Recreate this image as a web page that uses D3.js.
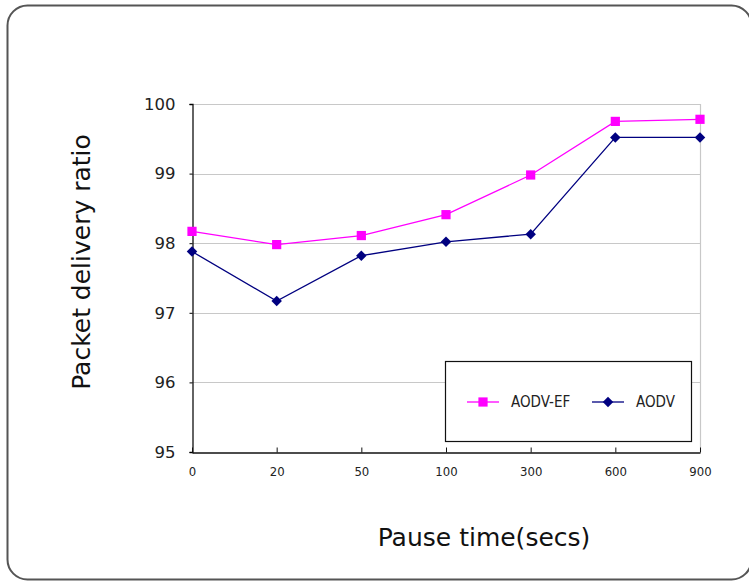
<!DOCTYPE html>
<html>
<head>
<meta charset="utf-8">
<script src="https://cdn.jsdelivr.net/npm/d3@7"></script>
<style>
  body { margin: 0; background: #fff; }
  svg { display: block; }
</style>
</head>
<body>
<div id="chart"></div>
<script>
// pause time categories and the two series
var pauseTimes = ["0", "20", "50", "100", "300", "600", "900"];
var aodvEF = [98.17, 97.98, 98.11, 98.41, 98.98, 99.75, 99.78];
var aodv = [97.88, 97.17, 97.82, 98.02, 98.13, 99.52, 99.52];
var yTicks = [95, 96, 97, 98, 99, 100];
var seriesNames = ["AODV-EF", "AODV"];

var width = 749,
    height = 583,
    margin = ({ top: 104, right: 49, bottom: 131, left: 192 });

var svg = d3.select("#chart").append("svg")
    .attr("width", width)
    .attr("height", height);

// outer rounded frame
svg.append("rect")
    .attr("x", 7.5).attr("y", 5.5)
    .attr("width", 744).attr("height", 574)
    .attr("rx", 20)
    .attr("fill", "#fff")
    .attr("stroke", "#555")
    .attr("stroke-width", 2);

var x = d3.scalePoint()
    .domain(pauseTimes)
    .range([margin.left, width - margin.right]);

var y = d3.scaleLinear()
    .domain([95, 100])
    .range([height - margin.bottom, margin.top]);

// gridlines
svg.append("g")
    .selectAll("line")
    .data(yTicks.filter(d => d > 95))
    .join("line")
    .attr("x1", margin.left)
    .attr("x2", width - margin.right)
    .attr("y1", d => Math.round(y(d)) + 0.5)
    .attr("y2", d => Math.round(y(d)) + 0.5)
    .attr("stroke", "#c8c8c8")
    .attr("stroke-width", 1.2);

// right border of plot area
svg.append("line")
    .attr("x1", width - margin.right + 0.5).attr("x2", width - margin.right + 0.5)
    .attr("y1", margin.top).attr("y2", height - margin.bottom)
    .attr("stroke", "#c8c8c8")
    .attr("stroke-width", 1.2);

// y axis
var yAxis = svg.append("g")
    .attr("transform", `translate(${margin.left + 0.5},0)`)
    .call(d3.axisLeft(y).tickValues(yTicks).tickSize(3).tickPadding(14).tickFormat(d3.format("d")));
yAxis.select(".domain").attr("stroke", "#111").attr("stroke-width", 1.3);
yAxis.selectAll("text")
    .style("font", "16.5px 'DejaVu Sans', sans-serif")
    .attr("fill", "#222");

// x axis, ticks point up into the plot
var xAxis = svg.append("g")
    .attr("transform", `translate(0,${height - margin.bottom + 0.5})`)
    .call(d3.axisBottom(x).tickSizeInner(-5).tickSizeOuter(0).tickPadding(14));
xAxis.select(".domain").attr("stroke", "#111").attr("stroke-width", 1.3);
xAxis.selectAll("line").attr("stroke", "#111");
xAxis.selectAll("text")
    .style("font", "13px 'DejaVu Sans Condensed', 'DejaVu Sans', sans-serif")
    .attr("fill", "#222");

// diamond = square turned 45 degrees
var diamond = {
    draw(context, size) {
        var r = Math.sqrt(size / 2);
        context.moveTo(0, -r);
        context.lineTo(r, 0);
        context.lineTo(0, r);
        context.lineTo(-r, 0);
        context.closePath();
    }
};

// series
var series = [
    { name: seriesNames[0], values: aodvEF, color: "#ff00ff", shape: d3.symbolSquare, size: 85 },
    { name: seriesNames[1], values: aodv, color: "#000080", shape: diamond, size: 55 }
];

var line = d3.line()
    .x((d, i) => x(pauseTimes[i]))
    .y(d => y(d));

series.slice().reverse().forEach(s => {
    svg.append("path")
        .datum(s.values)
        .attr("fill", "none")
        .attr("stroke", s.color)
        .attr("stroke-width", 1.3)
        .attr("d", line);
});

series.forEach(s => {
    svg.append("g")
        .selectAll("path")
        .data(s.values)
        .join("path")
        .attr("transform", (d, i) => `translate(${x(pauseTimes[i])},${y(d)})`)
        .attr("d", d3.symbol().type(s.shape).size(s.size))
        .attr("fill", s.color);
});

// legend
var legend = svg.append("g");
legend.append("rect")
    .attr("x", 445.5).attr("y", 361.5)
    .attr("width", 246).attr("height", 80)
    .attr("fill", "#fff")
    .attr("stroke", "#111")
    .attr("stroke-width", 1.2);

var legendItems = legend.selectAll("g")
    .data(series)
    .join("g")
    .attr("transform", (d, i) => `translate(${i === 0 ? 467 : 592},402)`);

legendItems.append("line")
    .attr("x1", 0).attr("x2", 32)
    .attr("stroke", d => d.color)
    .attr("stroke-width", 1.3);
legendItems.append("path")
    .attr("transform", "translate(16,0)")
    .attr("d", d => d3.symbol().type(d.shape).size(d.size)())
    .attr("fill", d => d.color);
legendItems.append("text")
    .attr("x", 44)
    .attr("dy", "0.35em")
    .style("font", "15px 'DejaVu Sans Condensed', 'DejaVu Sans', sans-serif")
    .attr("fill", "#222")
    .text(d => d.name);

// axis titles
svg.append("text")
    .attr("transform", "translate(90,262) rotate(-90)")
    .attr("text-anchor", "middle")
    .style("font", "25px 'DejaVu Sans', sans-serif")
    .attr("fill", "#111")
    .text("Packet delivery ratio");

svg.append("text")
    .attr("x", 484).attr("y", 546)
    .attr("text-anchor", "middle")
    .style("font", "25px 'DejaVu Sans', sans-serif")
    .attr("fill", "#111")
    .text("Pause time(secs)");
</script>
</body>
</html>
